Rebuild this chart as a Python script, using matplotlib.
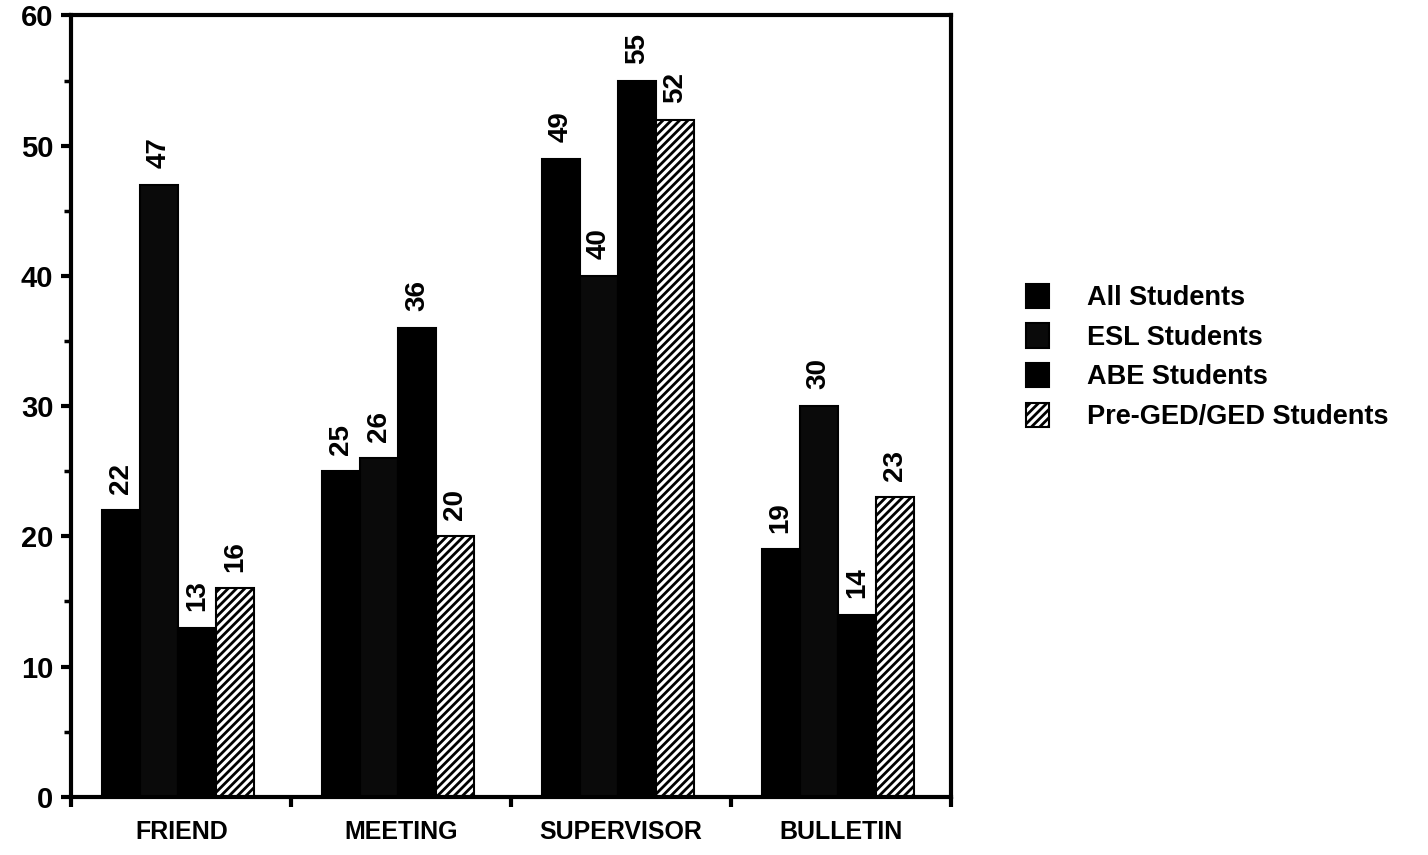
import numpy as np
import matplotlib.pyplot as plt

plt.rcParams['font.family'] = ['Liberation Sans', 'DejaVu Sans']
plt.rcParams['hatch.linewidth'] = 2.0

# Data
categories = ['FRIEND', 'MEETING', 'SUPERVISOR', 'BULLETIN']
series_names = ['All Students', 'ESL Students', 'ABE Students', 'Pre-GED/GED Students']
all_students = [22, 25, 49, 19]
esl_students = [47, 26, 40, 30]
abe_students = [13, 36, 55, 14]
ged_students = [16, 20, 52, 23]

series = [all_students, esl_students, abe_students, ged_students]
faces = ['black', '#0a0a0a', 'black', 'white']
hatches = [None, None, None, '////']

fig = plt.figure(figsize=(14.28, 8.55), dpi=100)
ax = fig.add_axes([0.050, 0.068, 0.616, 0.914])

x = np.arange(len(categories)) + 0.5
width = 0.173
offsets = (np.arange(4) - 1.5) * width - 0.015

for vals, off, fc, h, name in zip(series, offsets, faces, hatches, series_names):
    bars = ax.bar(x + off, vals, width, color=fc, edgecolor='black',
                  linewidth=1.5, hatch=h, label=name)
    for b, v in zip(bars, vals):
        ax.annotate(str(v), (b.get_x() + b.get_width() / 2, v),
                    xytext=(0, 12), textcoords='offset points',
                    rotation=90, ha='center', va='bottom',
                    fontsize=20, fontweight='bold')

ax.set_xlim(0, 4)
ax.set_ylim(0, 60)
ax.set_yticks(np.arange(0, 61, 10))
ax.set_yticks(np.arange(5, 60, 10), minor=True)
ax.set_xticks([0, 1, 2, 3, 4])
ax.set_xticklabels([])
ax.set_xticks(x, minor=True)
ax.set_xticklabels(categories, minor=True)

ax.tick_params(axis='y', which='major', direction='out', length=7, width=3,
               labelsize=21, pad=6)
ax.tick_params(axis='y', which='minor', direction='out', length=5, width=2.5)
ax.tick_params(axis='x', which='major', direction='out', length=7, width=3)
ax.tick_params(axis='x', which='minor', length=0, labelsize=18, pad=17)
for lbl in ax.get_yticklabels():
    lbl.set_fontweight('bold')
for lbl in ax.get_xticklabels(minor=True):
    lbl.set_fontweight('bold')

for s in ax.spines.values():
    s.set_linewidth(3)

leg = ax.legend(loc='center left', bbox_to_anchor=(1.058, 0.563), frameon=False,
                prop={'size': 19.5, 'weight': 'bold'}, handlelength=0.85,
                handleheight=1.0, handletextpad=1.4, labelspacing=0.45)

fig.savefig('out.png', dpi=100)
